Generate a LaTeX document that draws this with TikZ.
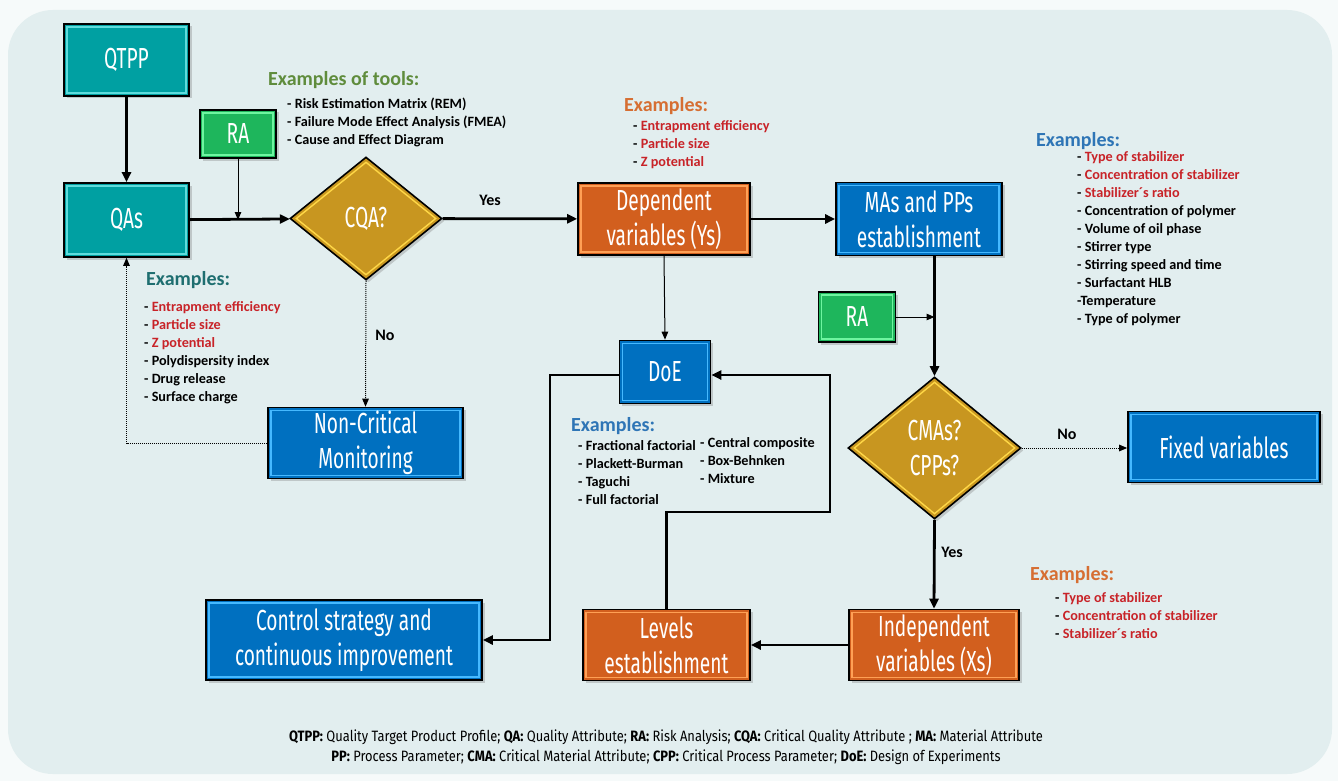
\documentclass[tikz,border=0pt]{standalone}
\usepackage{fontspec}
\setmainfont{Carlito}
\newfontfamily\boxfont[FakeStretch=0.66]{Fira Sans}
\newfontfamily\footfont[FakeStretch=0.86]{Fira Sans}
\usetikzlibrary{shapes.geometric,shadows,arrows.meta,calc}
\definecolor{bgout}{RGB}{246,250,250}
\definecolor{bgin}{RGB}{226,238,239}
\definecolor{cteal}{RGB}{0,160,162}
\definecolor{ctealL}{RGB}{95,220,220}
\definecolor{cgreen}{RGB}{30,182,92}
\definecolor{cgreenL}{RGB}{110,245,160}
\definecolor{cgold}{RGB}{200,150,32}
\definecolor{cgoldL}{RGB}{255,215,70}
\definecolor{corange}{RGB}{210,95,30}
\definecolor{corangeL}{RGB}{255,160,85}
\definecolor{cblue}{RGB}{0,112,192}
\definecolor{cblueL}{RGB}{70,185,255}
\definecolor{exred}{RGB}{200,35,40}
\definecolor{hgreen}{RGB}{95,140,60}
\definecolor{horange}{RGB}{214,110,50}
\definecolor{hblue}{RGB}{46,117,182}
\definecolor{hteal}{RGB}{30,110,112}
\newcommand\rd[1]{- \textcolor{exred}{#1}}
\tikzset{
  boxbase/.style={draw=black, line width=1.6pt, align=center, text=white,
    inner sep=0pt, font=\boxfont\fontsize{29}{35}\selectfont,
    drop shadow={opacity=0.35, shadow xshift=2.5pt, shadow yshift=-2.5pt}},
  rframe/.style={path picture={\draw[#1, line width=1.4pt]
    ([shift={(2.9pt,2.9pt)}]path picture bounding box.south west) rectangle
    ([shift={(-2.9pt,-2.9pt)}]path picture bounding box.north east);}},
  tealbox/.style={boxbase, fill=cteal, rframe=ctealL},
  greenbox/.style={boxbase, fill=cgreen, rframe=cgreenL},
  orangebox/.style={boxbase, fill=corange, rframe=corangeL},
  bluebox/.style={boxbase, fill=cblue, rframe=cblueL},
  golddia/.style={boxbase, diamond, fill=cgold,
    path picture={\draw[cgoldL, line width=1.4pt]
      ($(path picture bounding box.north)+(0pt,-5pt)$) --
      ($(path picture bounding box.east)+(-6pt,0pt)$) --
      ($(path picture bounding box.south)+(0pt,5pt)$) --
      ($(path picture bounding box.west)+(6pt,0pt)$) -- cycle;}},
  thickarr/.style={draw=black, line width=2.8pt, -{Triangle[length=10pt,width=9pt]}},
  thinarr/.style={draw=black, line width=1pt, -{Triangle[length=8pt,width=6.5pt]}},
  dotarr/.style={draw=black, line width=1pt, dash pattern=on 1pt off 1pt, -{Triangle[length=8pt,width=6.5pt]}},
  lab/.style={font=\bfseries\fontsize{16}{18}\selectfont, text=black, inner sep=0pt},
  head/.style={font=\bfseries\fontsize{20}{22}\selectfont, anchor=west, inner sep=0pt},
  exlist/.style={font=\bfseries\fontsize{14.2}{18}\selectfont, anchor=west, align=left, inner sep=0pt}
}
\begin{document}
\begin{tikzpicture}[x=1pt,y=-1pt]
\useasboundingbox (0,0) rectangle (1338,781);
\fill[bgout] (0,0) rectangle (1338,781);
\fill[bgin] (8,10) [rounded corners=45pt] rectangle (1332,774);

% nodes
\node[tealbox, minimum width=125, minimum height=72] (qtpp) at (126.5,60) {QTPP};
\node[tealbox, minimum width=125, minimum height=74] (qas) at (126.5,220) {QAs};
\node[greenbox, minimum width=76, minimum height=48] (ra1) at (238,134) {RA};
\node[golddia, minimum width=152, minimum height=123] (cqa) at (366,218.5) {CQA?};
\node[orangebox, minimum width=172, minimum height=72] (dep) at (664,219) {Dependent\\variables (Ys)};
\node[bluebox, minimum width=166, minimum height=73] (mas) at (919,219) {MAs and PPs\\establishment};
\node[greenbox, minimum width=77, minimum height=50] (ra2) at (857,317) {RA};
\node[golddia, minimum width=173, minimum height=142] (cma) at (934.5,448) {CMAs?\\CPPs?};
\node[bluebox, minimum width=192, minimum height=71] (fixed) at (1224,447) {Fixed variables};
\node[bluebox, minimum width=91, minimum height=63] (doe) at (665,372) {DoE};
\node[bluebox, minimum width=195, minimum height=71] (ncm) at (365.5,443) {Non-Critical\\Monitoring};
\node[bluebox, minimum width=276, minimum height=80] (ctrl) at (344,640) {Control strategy and\\continuous improvement};
\node[orangebox, minimum width=167, minimum height=71] (lev) at (666.5,645) {Levels\\establishment};
\node[orangebox, minimum width=170, minimum height=71] (ind) at (934,645) {Independent\\variables (Xs)};

% connectors
\draw[thickarr] (qtpp) -- (qas);
\draw[thickarr] (qas) -- (cqa);
\coordinate (ra1t) at (qas.east -| ra1.south);
\draw[thinarr] (ra1.south) -- (ra1t);
\draw[thickarr] (cqa) -- (dep);
\node[lab] (yes1) at (490,200) {Yes};
\draw[dotarr] (cqa.south) -- (ncm.north);
\node[lab] (no1) at (385,335) {No};
\draw[dotarr] (ncm.west) -| (qas.south);
\draw[thinarr] (dep.south) -- (doe.north);
\draw[thickarr] (dep) -- (mas);
\draw[thickarr] (mas.south -| cma.north) -- (cma.north);
\coordinate (ra2t) at (ra2.east -| cma.north);
\draw[thinarr] (ra2.east) -- (ra2t);
\draw[dotarr] (cma.east) -- (cma.east -| fixed.west);
\node[lab] (no2) at (1067,434) {No};
\draw[thickarr] (cma.south) -- (ind.north);
\node[lab] (yes2) at (952,552) {Yes};
\draw[thickarr] (ind) -- (lev);
\coordinate (lp1) at (666.5,512);
\coordinate (lp2) at (830,512);
\coordinate (lp3) at (830,375);
\draw[thickarr] (lev.north) -- (lp1) -- (lp2) -- (lp3) -- (lp3 -| doe.east);
\coordinate (lq1) at (550,375);
\draw[thickarr] (lq1 -| doe.west) -- (lq1) |- (ctrl.east);

% example texts
\node[head, text=hgreen] (h1) at (268,80) {Examples of tools:};
\node[exlist] (l1) at (287,122) {- Risk Estimation Matrix (REM)\\- Failure Mode Effect Analysis (FMEA)\\- Cause and Effect Diagram};

\node[head, text=horange] (h2) at (624,106) {Examples:};
\node[exlist] (l2) at (633,145) {\rd{Entrapment efficiency}\\\rd{Particle size}\\\rd{Z potential}};

\node[head, text=hblue] (h3) at (1036,141) {Examples:};
\node[exlist] (l3) at (1077,238.5) {\rd{Type of stabilizer}\\\rd{Concentration of stabilizer}\\\rd{Stabilizer´s ratio}\\- Concentration of polymer\\- Volume of oil phase\\- Stirrer type\\- Stirring speed and time\\- Surfactant HLB\\-Temperature\\- Type of polymer};

\node[head, text=hteal] (h4) at (146,280) {Examples:};
\node[exlist] (l4) at (144,352.5) {\rd{Entrapment efficiency}\\\rd{Particle size}\\\rd{Z potential}\\- Polydispersity index\\- Drug release\\- Surface charge};

\node[head, text=hblue] (h5) at (571,426) {Examples:};
\node[exlist] (l5) at (578,472.5) {- Fractional factorial\\- Plackett-Burman\\- Taguchi\\- Full factorial};
\node[exlist] (l6) at (700,461) {- Central composite\\- Box-Behnken\\- Mixture};

\node[head, text=horange] (h6) at (1030,575) {Examples:};
\node[exlist] (l7) at (1055,616) {\rd{Type of stabilizer}\\\rd{Concentration of stabilizer}\\\rd{Stabilizer´s ratio}};

% footer
\node[font=\footfont\fontsize{15}{20}\selectfont, align=center, inner sep=0pt] (foot) at (666,747)
  {\textbf{QTPP:} Quality Target Product Profile; \textbf{QA:} Quality Attribute; \textbf{RA:} Risk Analysis; \textbf{CQA:} Critical Quality Attribute ; \textbf{MA:} Material Attribute\\
   \textbf{PP:} Process Parameter; \textbf{CMA:} Critical Material Attribute; \textbf{CPP:} Critical Process Parameter; \textbf{DoE:} Design of Experiments};
\end{tikzpicture}
\end{document}
